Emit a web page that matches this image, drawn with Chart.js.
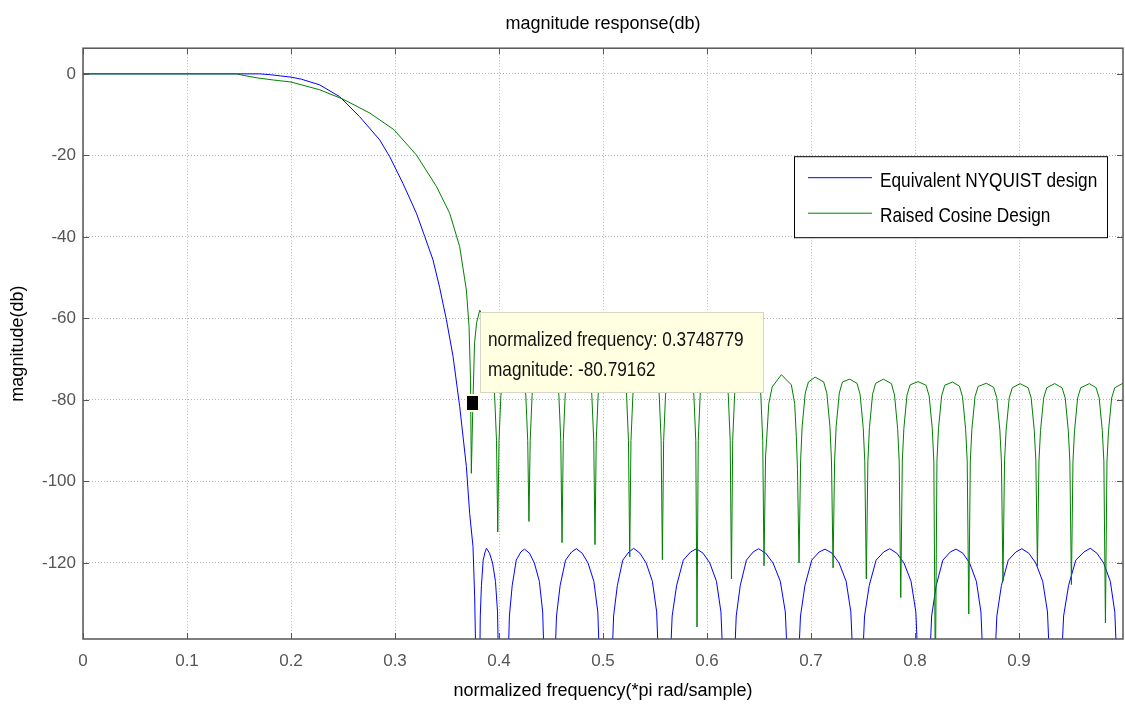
<!DOCTYPE html>
<html>
<head>
<meta charset="utf-8">
<title>magnitude response(db)</title>
<script src="https://cdn.jsdelivr.net/npm/chart.js@4.4.1/dist/chart.umd.min.js"></script>
<style>
  html, body { margin: 0; padding: 0; background: #fff; }
  #chart { display: block; }
</style>
</head>
<body>
<canvas id="chart" width="1125" height="709"></canvas>
<script>
// ---- data ----
const xTicks = [0, 0.1, 0.2, 0.3, 0.4, 0.5, 0.6, 0.7, 0.8, 0.9];
const xTickLabels = ['0', '0.1', '0.2', '0.3', '0.4', '0.5', '0.6', '0.7', '0.8', '0.9'];
const yTicks = [0, -20, -40, -60, -80, -100, -120];
const yTickLabels = ['0', '-20', '-40', '-60', '-80', '-100', '-120'];

const seriesNames = ['Equivalent NYQUIST design', 'Raised Cosine Design'];

// Equivalent NYQUIST design (blue)
const nyquistFreq = [
  0, 0.17, 0.18, 0.19, 0.2, 0.21, 0.2276, 0.2468, 0.266, 0.2853, 0.2949, 0.3077,
  0.3206, 0.3286, 0.3365, 0.343, 0.3494, 0.3558, 0.3622, 0.3686, 0.3718, 0.375, 0.3766, 0.3778,
  0.3815, 0.3820, 0.3831, 0.3848, 0.3866, 0.3880, 0.3909, 0.3938, 0.3966, 0.3986, 0.3995,
  0.4087, 0.4100, 0.4127, 0.4166, 0.4210, 0.4245, 0.4293, 0.4340, 0.4388, 0.4420, 0.4435,
  0.4536, 0.4553, 0.4588, 0.4640, 0.4698, 0.4744, 0.4800, 0.4856, 0.4912, 0.4950, 0.4968,
  0.5085, 0.5102, 0.5138, 0.5190, 0.5249, 0.5295, 0.5355, 0.5415, 0.5475, 0.5516, 0.5535,
  0.5645, 0.5665, 0.5708, 0.5772, 0.5842, 0.5898, 0.5962, 0.6027, 0.6091, 0.6134, 0.6155,
  0.6262, 0.6281, 0.6320, 0.6379, 0.6444, 0.6495, 0.6565, 0.6635, 0.6705, 0.6753, 0.6775,
  0.6878, 0.6899, 0.6942, 0.7007, 0.7078, 0.7135, 0.7203, 0.7270, 0.7338, 0.7383, 0.7405,
  0.7494, 0.7515, 0.7560, 0.7626, 0.7699, 0.7757, 0.7825, 0.7894, 0.7962, 0.8008, 0.8030,
  0.8140, 0.8160, 0.8204, 0.8268, 0.8339, 0.8395, 0.8460, 0.8525, 0.8590, 0.8634, 0.8655,
  0.8766, 0.8787, 0.8831, 0.8897, 0.8970, 0.9027, 0.9094, 0.9161, 0.9228, 0.9274, 0.9295,
  0.9407, 0.9429, 0.9477, 0.9546, 0.9624, 0.9685, 0.9749, 0.9814, 0.9878, 0.9921, 0.9942,
  1.0
];
const nyquistMag = [
  0, 0, -0.2, -0.5, -0.8, -1.3, -2.7, -5.6, -10.5, -16.2, -20.3, -26.9,
  -34.2, -39.9, -45.6, -52.5, -60.3, -69.3, -81.6, -96.3, -107.9, -116, -128.3, -145,
  -145, -133, -125.5, -119.3, -117.3, -116.4, -117.6, -120, -124.5, -132, -145,
  -145, -133, -125.5, -119.3, -117.3, -116.6, -117.6, -120, -124.5, -132, -145,
  -145, -133, -125.5, -119.3, -117.3, -116.5, -117.6, -120, -124.5, -132, -145,
  -145, -133, -125.5, -119.3, -117.3, -116.4, -117.6, -120, -124.5, -132, -145,
  -145, -133, -125.5, -119.3, -117.3, -116.5, -117.6, -120, -124.5, -132, -145,
  -145, -133, -125.5, -119.3, -117.3, -116.5, -117.6, -120, -124.5, -132, -145,
  -145, -133, -125.5, -119.3, -117.3, -116.6, -117.6, -120, -124.5, -132, -145,
  -145, -133, -125.5, -119.3, -117.3, -116.5, -117.6, -120, -124.5, -132, -145,
  -145, -133, -125.5, -119.3, -117.3, -116.6, -117.6, -120, -124.5, -132, -145,
  -145, -133, -125.5, -119.3, -117.3, -116.5, -117.6, -120, -124.5, -132, -145,
  -145, -133, -125.5, -119.3, -117.3, -116.4, -117.6, -120, -124.5, -132, -145,
  -150
];

// Raised Cosine Design (green)
const cosineFreq = [
  0, 0.1475, 0.155, 0.168, 0.183, 0.2, 0.2276, 0.25, 0.2757, 0.299, 0.3206, 0.3398,
  0.3526, 0.3622, 0.3686, 0.3712, 0.3726, 0.3734, 0.3749, 0.3765, 0.3785, 0.3815, 0.386,
  0.3938, 0.3958, 0.3976, 0.3988, 0.4000, 0.4018, 0.4038, 0.4138,
  0.4238, 0.4258, 0.4276, 0.4288, 0.4300, 0.4318, 0.4338, 0.4447,
  0.4556, 0.4576, 0.4594, 0.4606, 0.4618, 0.4636, 0.4656, 0.4765,
  0.4873, 0.4893, 0.4911, 0.4923, 0.4935, 0.4953, 0.4973, 0.5090,
  0.5207, 0.5227, 0.5245, 0.5257, 0.5269, 0.5287, 0.5307, 0.5414,
  0.5521, 0.5541, 0.5559, 0.5571, 0.5583, 0.5601, 0.5621, 0.5738,
  0.5854, 0.5874, 0.5892, 0.5904, 0.5916, 0.5934, 0.5954, 0.6070,
  0.6185, 0.6205, 0.6223, 0.6235, 0.6247, 0.6265, 0.6285, 0.6390,
  0.6498, 0.6518, 0.6536, 0.6548, 0.6563, 0.6579, 0.6594, 0.6627, 0.6715,
  0.6811, 0.6843, 0.6859, 0.6870, 0.6885, 0.6900, 0.6915, 0.6945, 0.6975, 0.7040,
  0.7122, 0.7152, 0.7182, 0.7197, 0.7212, 0.7227, 0.7242, 0.7272, 0.7302, 0.7372,
  0.7442, 0.7472, 0.7502, 0.7517, 0.7532, 0.7547, 0.7562, 0.7592, 0.7622, 0.7697,
  0.7773, 0.7803, 0.7833, 0.7848, 0.7863, 0.7878, 0.7893, 0.7923, 0.7953, 0.8029,
  0.8106, 0.8136, 0.8166, 0.8181, 0.8196, 0.8211, 0.8226, 0.8256, 0.8286, 0.8360,
  0.8427, 0.8457, 0.8487, 0.8502, 0.8517, 0.8532, 0.8547, 0.8577, 0.8607, 0.8686,
  0.8756, 0.8786, 0.8816, 0.8831, 0.8846, 0.8861, 0.8876, 0.8906, 0.8936, 0.9010,
  0.9087, 0.9117, 0.9147, 0.9162, 0.9177, 0.9192, 0.9207, 0.9237, 0.9267, 0.9343,
  0.9414, 0.9444, 0.9474, 0.9489, 0.9504, 0.9519, 0.9534, 0.9564, 0.9594, 0.9676,
  0.9741, 0.9771, 0.9801, 0.9816, 0.9831, 0.9846, 0.9861, 0.9891, 0.9921, 1.0
];
const cosineMag = [
  0, 0, -0.4, -1.0, -1.5, -2.0, -3.9, -6.2, -9.6, -13.7, -19.9, -27.6,
  -34.2, -42.4, -53, -62, -75, -98, -80.79162, -66, -61, -58, -60,
  -72, -79, -90, -112.4, -90, -79, -72, -66,
  -72, -79, -90, -109.8, -90, -79, -72, -66,
  -72, -79, -90, -115.0, -90, -79, -72, -66,
  -72, -79, -90, -115.5, -90, -79, -72, -66,
  -72, -79, -90, -118.5, -90, -79, -72, -66,
  -72, -79, -90, -119.2, -90, -79, -72, -66,
  -72, -79, -90, -135.7, -90, -79, -72, -66,
  -72, -79, -90, -123.9, -90, -79, -72, -67,
  -72, -79, -90, -120.7, -94, -87.4, -80.9, -76.8, -73.8,
  -76.3, -80.9, -89, -97, -120.0, -95, -86.5, -78.3, -75.6, -74.4,
  -75.6, -78.3, -86.5, -95, -121.2, -95, -86.5, -78.3, -75.6, -74.9,
  -75.9, -78.6, -86.8, -95, -123.9, -95, -86.8, -78.6, -75.9, -74.9,
  -76.0, -78.8, -87.0, -95, -128.5, -95, -87.0, -78.8, -76.3, -75.5,
  -76.4, -79.0, -87.0, -95, -150, -95, -87.0, -79.0, -76.4, -75.6,
  -76.6, -79.2, -87.2, -95, -132.5, -95, -87.2, -79.2, -76.7, -75.9,
  -76.9, -79.4, -87.4, -95, -124.5, -95, -87.4, -79.5, -77.0, -76.0,
  -77.0, -79.5, -87.5, -95, -120.7, -95, -87.5, -79.5, -77.0, -76.0,
  -77.0, -79.5, -87.5, -95, -125.3, -95, -87.5, -79.5, -77.0, -76.0,
  -77.0, -79.5, -87.5, -95, -134.7, -95, -87.5, -79.5, -77.0, -75.9
];

// data cursor
const tipFreq = 0.3748779;
const tipMag = -80.79162;

const FONT = "'Liberation Sans', Arial, sans-serif";

function toPoints(xs, ys) {
  return xs.map((x, i) => ({ x: x, y: ys[i] }));
}

// narrow text like the MATLAB screenshot: taller font squeezed sideways
function narrowText(ctx, text, x, y) {
  ctx.save();
  ctx.translate(x, y);
  ctx.scale(0.82, 1);
  ctx.fillText(text, 0, 0);
  ctx.restore();
}

// draws the axes box and MATLAB style inward ticks
const framePlugin = {
  id: 'frame',
  afterDatasetsDraw(chart) {
    const { ctx, chartArea: a, scales: { x, y } } = chart;
    ctx.save();
    ctx.strokeStyle = '#555';
    ctx.lineWidth = 1;
    ctx.beginPath();
    x.ticks.forEach(t => {
      const px = Math.round(x.getPixelForValue(t.value)) + 0.5;
      ctx.moveTo(px, a.bottom); ctx.lineTo(px, a.bottom - 6);
      ctx.moveTo(px, a.top); ctx.lineTo(px, a.top + 6);
    });
    y.ticks.forEach(t => {
      const py = Math.round(y.getPixelForValue(t.value)) + 0.5;
      ctx.moveTo(a.left, py); ctx.lineTo(a.left + 6, py);
      ctx.moveTo(a.right, py); ctx.lineTo(a.right - 6, py);
    });
    ctx.stroke();
    ctx.lineWidth = 1.5;
    ctx.strokeRect(a.left, a.top, a.right - a.left, a.bottom - a.top);
    ctx.restore();
  }
};

// legend box inside the axes
const legendPlugin = {
  id: 'boxLegend',
  afterDraw(chart) {
    const { ctx, chartArea: a } = chart;
    const w = 313, h = 81;
    const left = a.right - 16 - w;
    const top = a.top + 108;
    ctx.save();
    ctx.fillStyle = '#fff';
    ctx.fillRect(left, top, w, h);
    ctx.strokeStyle = '#000';
    ctx.lineWidth = 1;
    ctx.strokeRect(left + 0.5, top + 0.5, w, h);
    ctx.font = '21px ' + FONT;
    ctx.textBaseline = 'middle';
    ctx.fillStyle = '#000';
    chart.data.datasets.forEach((ds, i) => {
      const ly = top + 21 + i * 35.5;
      ctx.strokeStyle = ds.borderColor;
      ctx.beginPath();
      ctx.moveTo(left + 14, ly + 0.5);
      ctx.lineTo(left + 78, ly + 0.5);
      ctx.stroke();
      narrowText(ctx, ds.label, left + 86, ly + 4);
    });
    ctx.restore();
  }
};

// data cursor marker and its yellow box
const dataTipPlugin = {
  id: 'dataTip',
  afterDraw(chart) {
    const { ctx, scales: { x, y } } = chart;
    const mx = x.getPixelForValue(tipFreq);
    const my = y.getPixelForValue(tipMag);
    ctx.save();
    const bx = Math.round(mx + 7), by = Math.round(my - 91);
    ctx.fillStyle = '#ffffe1';
    ctx.fillRect(bx, by, 283, 80);
    ctx.strokeStyle = '#d6d6c4';
    ctx.lineWidth = 1;
    ctx.strokeRect(bx + 0.5, by + 0.5, 283, 80);
    ctx.fillStyle = '#111';
    ctx.font = '21px ' + FONT;
    ctx.textBaseline = 'middle';
    narrowText(ctx, 'normalized frequency: ' + tipFreq, bx + 8, by + 28);
    narrowText(ctx, 'magnitude: ' + tipMag, bx + 8, by + 58);
    // marker
    ctx.fillStyle = '#ffffe1';
    ctx.fillRect(Math.round(mx - 8), Math.round(my - 9), 15, 18);
    ctx.fillStyle = '#000';
    ctx.fillRect(Math.round(mx - 6), Math.round(my - 7), 11, 14);
    ctx.restore();
  }
};

const ctx = document.getElementById('chart').getContext('2d');
new Chart(ctx, {
  type: 'line',
  data: {
    datasets: [
      {
        label: seriesNames[0],
        data: toPoints(nyquistFreq, nyquistMag),
        borderColor: '#0000ff',
        borderWidth: 1,
        pointRadius: 0,
        tension: 0,
        order: 1
      },
      {
        label: seriesNames[1],
        data: toPoints(cosineFreq, cosineMag),
        borderColor: '#008000',
        borderWidth: 1,
        pointRadius: 0,
        tension: 0,
        order: 0
      }
    ]
  },
  options: {
    responsive: false,
    animation: false,
    devicePixelRatio: 1,
    events: [],
    layout: { padding: { top: 0, right: 2, bottom: 0, left: 0 } },
    plugins: {
      legend: { display: false },
      tooltip: { enabled: false },
      title: {
        display: true,
        text: 'magnitude response(db)',
        color: '#000',
        fullSize: false,
        font: { family: FONT, size: 18, weight: 'normal' },
        padding: { top: 13, bottom: 13.6 }
      }
    },
    scales: {
      x: {
        type: 'linear',
        min: 0,
        max: 1,
        afterBuildTicks: scale => { scale.ticks = xTicks.map(v => ({ value: v })); },
        afterFit: scale => { scale.height = 70; },
        ticks: {
          autoSkip: false,
          maxRotation: 0,
          padding: 12,
          color: '#555',
          font: { family: FONT, size: 17 },
          callback: (value) => xTickLabels[xTicks.indexOf(value)]
        },
        grid: { color: '#b4b4b4', drawTicks: false },
        border: { display: false, dash: [1, 2] },
        title: {
          display: true,
          text: 'normalized frequency(*pi rad/sample)',
          color: '#000',
          font: { family: FONT, size: 18 },
          padding: { top: 0, bottom: 7 }
        }
      },
      y: {
        type: 'linear',
        min: -138.65,
        max: 6.3,
        afterBuildTicks: scale => { scale.ticks = yTicks.map(v => ({ value: v })); },
        afterFit: scale => { scale.width = 83; },
        ticks: {
          padding: 7,
          color: '#555',
          font: { family: FONT, size: 17 },
          callback: (value) => yTickLabels[yTicks.indexOf(value)]
        },
        grid: { color: '#b4b4b4', drawTicks: false },
        border: { display: false, dash: [1, 2] },
        title: {
          display: true,
          text: 'magnitude(db)',
          color: '#000',
          font: { family: FONT, size: 18 },
          padding: { top: 7, bottom: 0 }
        }
      }
    }
  },
  plugins: [framePlugin, legendPlugin, dataTipPlugin]
});
</script>
</body>
</html>
